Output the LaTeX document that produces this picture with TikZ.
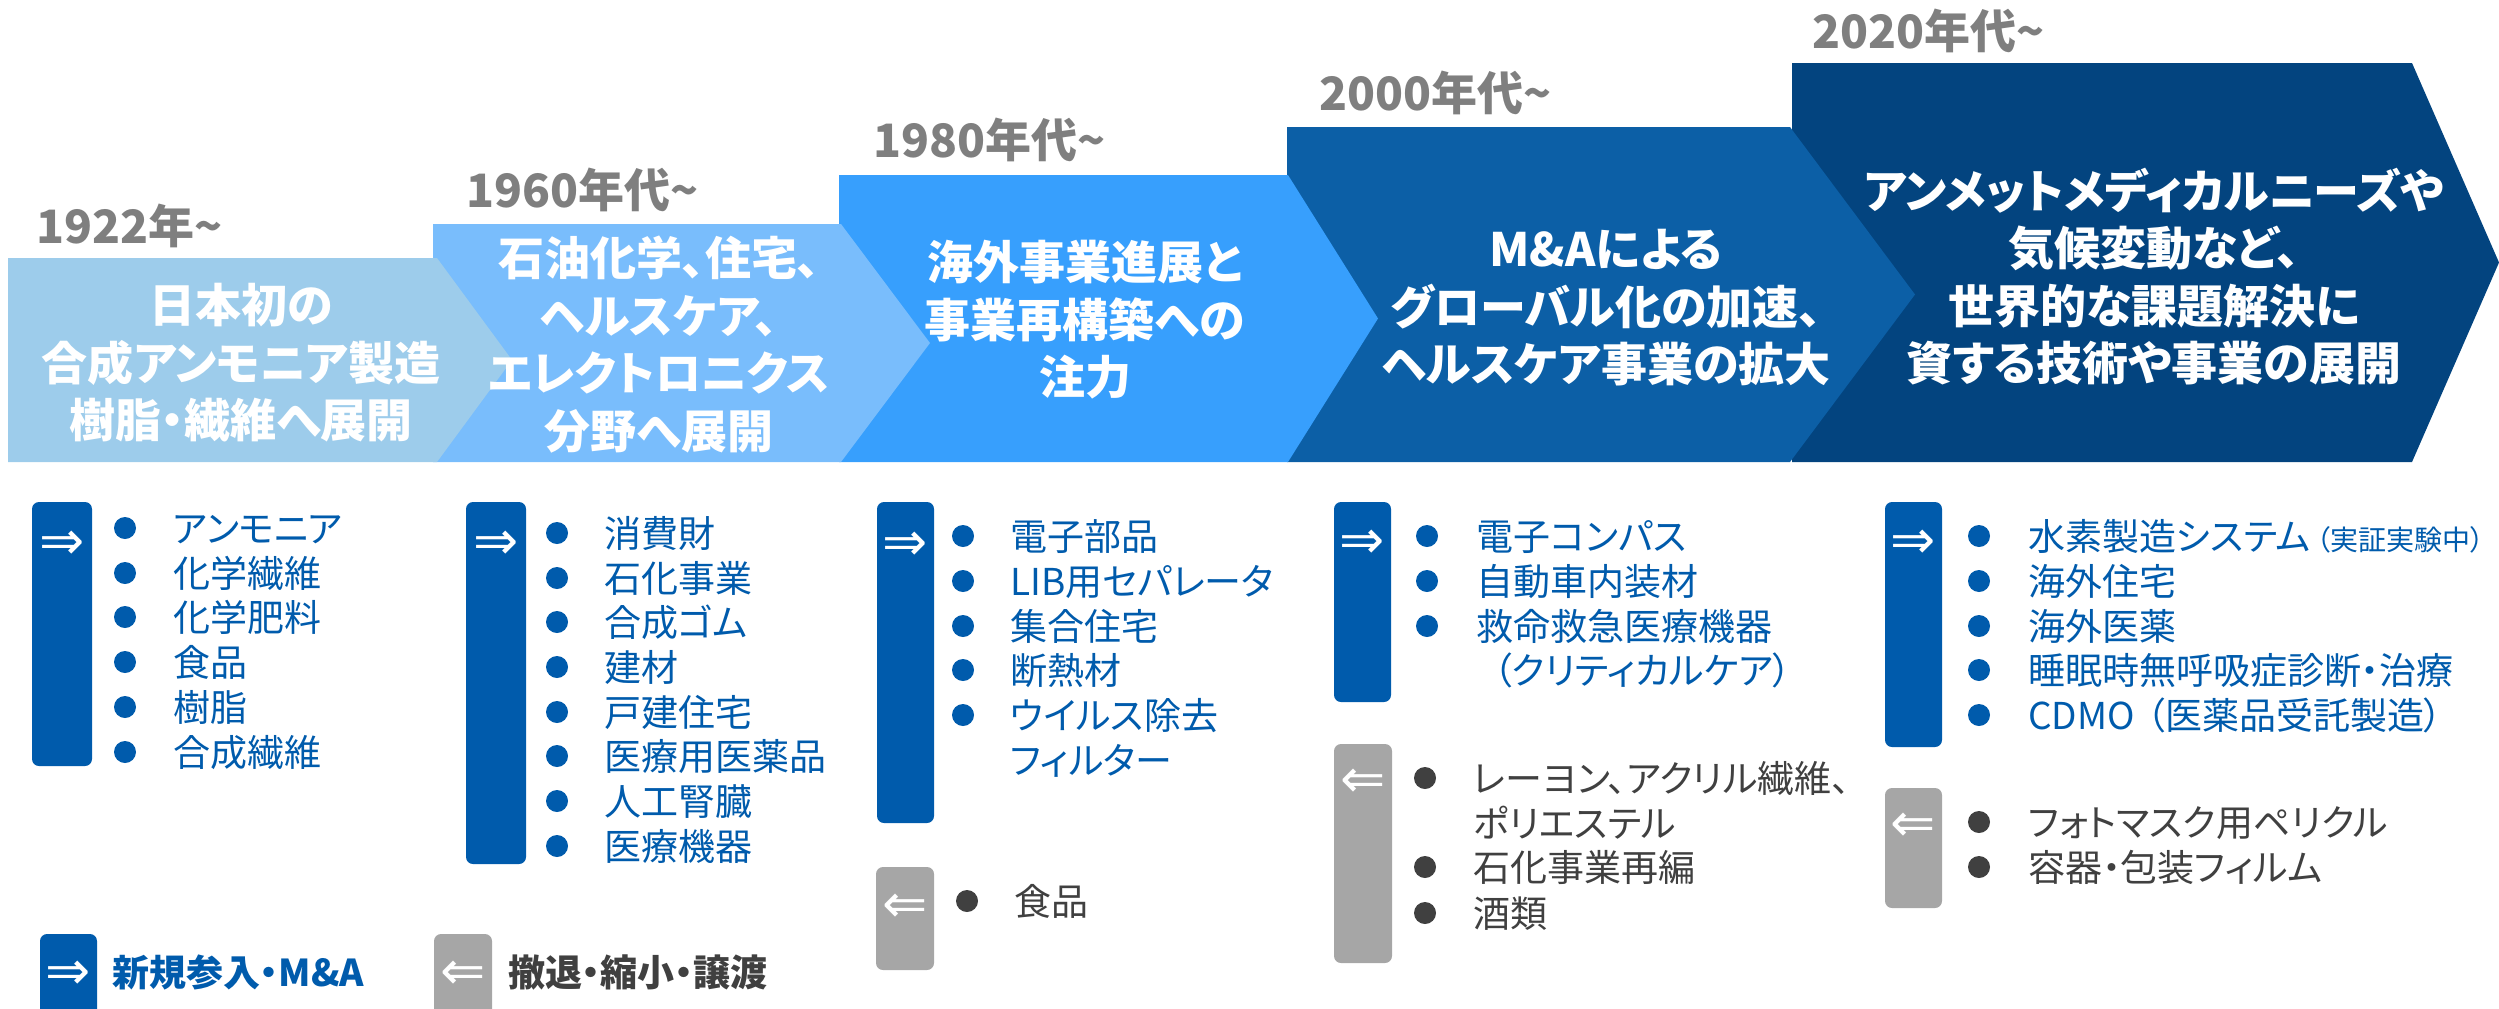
\documentclass[tikz,border=0pt]{standalone}
\usepackage{fontspec}
\setmainfont{Noto Sans CJK JP}[RawFeature=+palt]
\newfontfamily\arrowfont{DejaVu Sans}
\definecolor{cA}{RGB}{157,204,235}
\definecolor{cB}{RGB}{121,189,252}
\definecolor{cC}{RGB}{55,159,253}
\definecolor{cD}{RGB}{12,95,166}
\definecolor{cE}{RGB}{3,68,127}
\definecolor{barblue}{RGB}{0,91,172}
\definecolor{bargray}{RGB}{166,166,166}
\definecolor{yeargray}{RGB}{127,127,127}
\definecolor{dgray}{RGB}{64,64,64}
\tikzset{
  bannertext/.style={text=white, font=\bfseries\fontsize{46bp}{57.5bp}\selectfont, align=center, inner sep=0pt},
  yearlabel/.style={anchor=base west, text=yeargray, font=\bfseries\fontsize{46bp}{46bp}\selectfont, inner sep=0pt},
  itemb/.style={anchor=base west, text=barblue, font=\fontsize{37bp}{44.7bp}\selectfont, inner sep=0pt},
  itemg/.style={itemb, text=dgray},
  dotb/.style={circle, fill=barblue, minimum size=22bp, inner sep=0pt},
  dotg/.style={dotb, fill=dgray},
  barb/.style={fill=barblue, rounded corners=7bp},
  barg/.style={fill=bargray, rounded corners=7bp},
  arr/.style={text=white, font=\arrowfont\fontsize{54bp}{54bp}\selectfont, inner sep=0pt},
  legendb/.style={anchor=base west, text=barblue, font=\bfseries\fontsize{37bp}{37bp}\selectfont, inner sep=0pt},
  legendg/.style={legendb, text=dgray}
}
\begin{document}
\begin{tikzpicture}[x=1bp, y=-1bp]
\useasboundingbox (0,0) rectangle (2499,1008);
\clip (0,0) rectangle (2499,1008);
% banners (back to front)
\fill[cE] (1792,63) -- (2412,63) -- (2499,262.5) -- (2412,462) -- (1792,462) -- cycle;
\fill[cD] (1287,127) -- (1790,127) -- (1915,294.5) -- (1790,462) -- (1287,462) -- cycle;
\fill[cC] (839,175) -- (1288,175) -- (1378,318.5) -- (1288,462) -- (839,462) -- cycle;
\fill[cB] (433,224) -- (841,224) -- (930,343) -- (841,462) -- (433,462) -- cycle;
\fill[cA] (8,258) -- (437,258) -- (512,360) -- (437,462) -- (8,462) -- cycle;
% banner texts
\node[bannertext] (t1) at (241,363) {日本初の\\合成アンモニア製造\\樹脂・繊維へ展開};
\node[bannertext] (t2) at (659,344.5) {石油化学、住宅、\\ヘルスケア、\\エレクトロニクス\\分野へ展開};
\node[bannertext] (t3) at (1085,320) {海外事業進展と\\事業再構築への\\注力};
\node[bannertext] (t4) at (1606,308) {M\&Aによる\\グローバル化の加速、\\ヘルスケア事業の拡大};
\node[bannertext] (t5) at (2154,276.5) {アンメットメディカルニーズや\\気候変動など、\\世界的な課題解決に\\資する技術や事業の展開};
% year labels
\node[yearlabel] (y1) at (36,243) {1922年\textasciitilde};
\node[yearlabel] (y2) at (466,207) {1960年代\textasciitilde};
\node[yearlabel] (y3) at (873,157) {1980年代\textasciitilde};
\node[yearlabel] (y4) at (1319,110) {2000年代\textasciitilde};
\node[yearlabel] (y5) at (1812,48) {2020年代\textasciitilde};
% column 1
\fill[barb] (32,502) rectangle (92,766);
\node[arr] (a1) at (62,545) {⇒};
\node[dotb] (d11) at (125,528) {}; \node[itemb] (i11) at (173,542) {アンモニア};
\node[dotb] (d12) at (125,573) {}; \node[itemb] (i12) at (173,587) {化学繊維};
\node[dotb] (d13) at (125,617) {}; \node[itemb] (i13) at (173,631) {化学肥料};
\node[dotb] (d14) at (125,662) {}; \node[itemb] (i14) at (173,676) {食品};
\node[dotb] (d15) at (125,707) {}; \node[itemb] (i15) at (173,721) {樹脂};
\node[dotb] (d16) at (125,752) {}; \node[itemb] (i16) at (173,766) {合成繊維};
% column 2
\fill[barb] (466,502) rectangle (526,864);
\node[arr] (a2) at (496,545) {⇒};
\node[dotb] (d21) at (557,533) {}; \node[itemb] (i21) at (604,547) {消費財};
\node[dotb] (d22) at (557,578) {}; \node[itemb] (i22) at (604,592) {石化事業};
\node[dotb] (d23) at (557,622) {}; \node[itemb] (i23) at (604,636) {合成ゴム};
\node[dotb] (d24) at (557,667) {}; \node[itemb] (i24) at (604,681) {建材};
\node[dotb] (d25) at (557,712) {}; \node[itemb] (i25) at (604,726) {戸建住宅};
\node[dotb] (d26) at (557,756) {}; \node[itemb] (i26) at (604,770) {医療用医薬品};
\node[dotb] (d27) at (557,801) {}; \node[itemb] (i27) at (604,815) {人工腎臓};
\node[dotb] (d28) at (557,846) {}; \node[itemb] (i28) at (604,860) {医療機器};
% column 3
\fill[barb] (877,502) rectangle (934,823);
\node[arr] (a3) at (905,546) {⇒};
\node[dotb] (d31) at (963,536) {}; \node[itemb] (i31) at (1010,550) {電子部品};
\node[dotb] (d32) at (963,581) {}; \node[itemb] (i32) at (1010,595) {LIB用セパレータ};
\node[dotb] (d33) at (963,626) {}; \node[itemb] (i33) at (1010,640) {集合住宅};
\node[dotb] (d34) at (963,670) {}; \node[itemb] (i34) at (1010,684) {断熱材};
\node[dotb] (d35) at (963,715) {}; \node[itemb] (i35) at (1010,729) {ウイルス除去};
\node[itemb] (i36) at (1010,774) {フィルター};
\fill[barg] (876,867) rectangle (934,970);
\node[arr] (b3) at (905,908) {⇐};
\node[dotg] (g31) at (967,901) {}; \node[itemg] (j31) at (1014,915) {食品};
% column 4
\fill[barb] (1334,502) rectangle (1391,702);
\node[arr] (a4) at (1362,544) {⇒};
\node[dotb] (d41) at (1427,536) {}; \node[itemb] (i41) at (1476,550) {電子コンパス};
\node[dotb] (d42) at (1427,581) {}; \node[itemb] (i42) at (1476,595) {自動車内装材};
\node[dotb] (d43) at (1427,626) {}; \node[itemb] (i43) at (1476,640) {救命救急医療機器};
\node[itemb] (i44) at (1493,684) {（クリティカルケア）};
\fill[barg] (1334,744) rectangle (1392,963);
\node[arr] (b4) at (1363,783) {⇐};
\node[dotg] (g41) at (1425,778) {}; \node[itemg] (j41) at (1473,792) {レーヨン、アクリル繊維、};
\node[itemg] (j42) at (1473,837) {ポリエステル};
\node[dotg] (g43) at (1425,867) {}; \node[itemg] (j43) at (1473,881) {石化事業再編};
\node[dotg] (g44) at (1425,913) {}; \node[itemg] (j44) at (1473,927) {酒類};
% column 5
\fill[barb] (1885,502) rectangle (1942,747);
\node[arr] (a5) at (1913,544) {⇒};
\node[dotb] (d51) at (1979,536) {}; \node[itemb] (i51) at (2028,550) {水素製造システム\hspace{6bp}{\fontsize{28bp}{28bp}\selectfont（実証実験中）}};
\node[dotb] (d52) at (1979,581) {}; \node[itemb] (i52) at (2028,595) {海外住宅};
\node[dotb] (d53) at (1979,626) {}; \node[itemb] (i53) at (2028,640) {海外医薬};
\node[dotb] (d54) at (1979,670) {}; \node[itemb] (i54) at (2028,684) {睡眠時無呼吸症診断・治療};
\node[dotb] (d55) at (1979,715) {}; \node[itemb] (i55) at (2028,729) {CDMO\hspace{12bp}（医薬品受託製造）};
\fill[barg] (1885,788) rectangle (1942,908);
\node[arr] (b5) at (1913,827) {⇐};
\node[dotg] (g51) at (1979,822) {}; \node[itemg] (j51) at (2028,836) {フォトマスク用ペリクル};
\node[dotg] (g52) at (1979,867) {}; \node[itemg] (j52) at (2028,881) {容器・包装フィルム};
% legend
\fill[barb] (40,934) rectangle (97,1030);
\node[arr] (la) at (68,975) {⇒};
\node[legendb] (lt) at (112,986) {新規参入・M\&A};
\fill[barg] (434,934) rectangle (492,1030);
\node[arr] (lb) at (463,975) {⇐};
\node[legendg] (lu) at (508,986) {撤退・縮小・譲渡};
\end{tikzpicture}
\end{document}
